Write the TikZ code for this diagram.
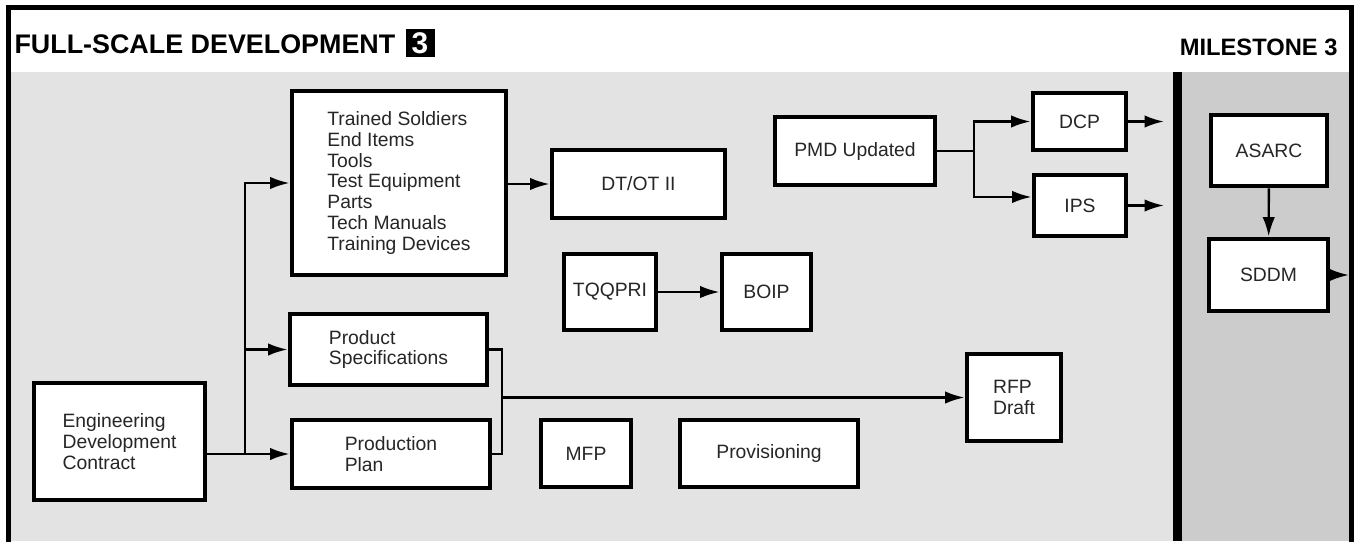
\documentclass[tikz,border=0pt]{standalone}
\usepackage{fontspec}
\setmainfont{Liberation Sans}
\usetikzlibrary{arrows.meta}

\begin{document}
\begin{tikzpicture}[x=0.02cm, y=-0.02cm,
    semithick,
    block/.style={rectangle, draw, fill=white, line width=2.8pt, inner sep=0pt,
      text=black!85, font=\fontsize{11}{11.9}\selectfont, align=left},
    link/.style={line width=1.35pt},
    arr/.style={link, -{Latex[length=11pt,width=7pt]}}
    ]
\useasboundingbox (0,0) rectangle (1354,541);
% background and frame
\fill[black!11] (11,72) rectangle (1173,541);
\fill[black!20] (1182,72) rectangle (1349,541);
\fill[black] (1173,72) rectangle (1182,541);
\draw[line width=2.85pt] (8.5,545) -- (8.5,7.5) -- (1351.5,7.5) -- (1351.5,545);

% header
\node[anchor=base west, inner sep=0pt, font=\fontsize{15.3}{18}\selectfont\bfseries] (title) at (14,53) {FULL-SCALE DEVELOPMENT};
\node[fill=black, text=white, inner sep=0pt, minimum size=0.58cm, font=\fontsize{17}{18}\selectfont\bfseries] (three) at (420,43) {3};
\node[anchor=base east, inner sep=0pt, font=\fontsize{13.5}{16}\selectfont\bfseries] (mile) at (1338,55) {MILESTONE 3};

% blocks
\node[block, minimum width=3.42cm, minimum height=2.34cm] (EDC) at (119.5,441.5) {Engineering\\Development\\Contract};
\node[block, minimum width=4.28cm, minimum height=3.68cm] (TS) at (399,183) {Trained Soldiers\\End Items\\Tools\\Test Equipment\\Parts\\Tech Manuals\\Training Devices};
\node[block, minimum width=3.94cm, minimum height=1.42cm] (Spec) at (388.5,349.5) {Product\\Specifications};
\node[block, minimum width=3.96cm, minimum height=1.36cm] (Plan) at (391,454) {Production\\Plan};
\node[block, minimum width=3.46cm, minimum height=1.36cm] (DTOT) at (638.5,184) {DT/OT II};
\node[block, minimum width=3.2cm, minimum height=1.36cm] (PMD) at (855,151) {PMD Updated};
\node[block, minimum width=1.86cm, minimum height=1.14cm] (DCP) at (1079.5,121.5) {DCP};
\node[block, minimum width=1.84cm, minimum height=1.22cm] (IPS) at (1080,205.5) {IPS};
\node[block, minimum width=2.32cm, minimum height=1.42cm] (ASARC) at (1269,150.5) {ASARC};
\node[block, minimum width=2.38cm, minimum height=1.44cm] (SDDM) at (1268.5,275) {SDDM};
\node[block, minimum width=1.84cm, minimum height=1.52cm] (TQQPRI) at (610,292) {TQQPRI};
\node[block, minimum width=1.78cm, minimum height=1.52cm] (BOIP) at (766.5,292) {BOIP};
\node[block, minimum width=1.88cm, minimum height=1.74cm] (RFP) at (1014,397.5) {RFP\\Draft};
\node[block, minimum width=1.80cm, minimum height=1.34cm] (MFP) at (586,453.5) {MFP};
\node[block, minimum width=3.56cm, minimum height=1.34cm] (Prov) at (769,453.5) {Provisioning};

% junctions
\coordinate (split) at (245,454);
\coordinate (merge) at (502,397.5);
\coordinate (fork) at (974,151);
\coordinate (gate) at (1164,0);
\coordinate (edge) at (1349,0);

% connectors
\draw[arr] (EDC.east |- Plan.west) -- (Plan.west);
\draw[arr] (split) |- (TS.west);
\draw[arr] (split) |- (Spec.west);
\draw[link] (Spec.east) -| (merge) |- (Plan.east);
\draw[arr] (merge) -- (RFP);
\draw[arr] (TS.east |- DTOT.west) -- (DTOT.west);
\draw[arr] (TQQPRI) -- (BOIP);
\draw[link] (PMD.east) -- (fork);
\draw[arr] (fork) |- (DCP.west);
\draw[arr] (fork) |- (IPS.170);
\draw[arr] (DCP.east) -- (DCP.east -| gate);
\draw[arr] (IPS.east) -- (IPS.east -| gate);
\draw[arr] (ASARC) -- (SDDM);
\draw[arr] (SDDM.east) -- (SDDM.east -| edge);
\end{tikzpicture}
\end{document}
